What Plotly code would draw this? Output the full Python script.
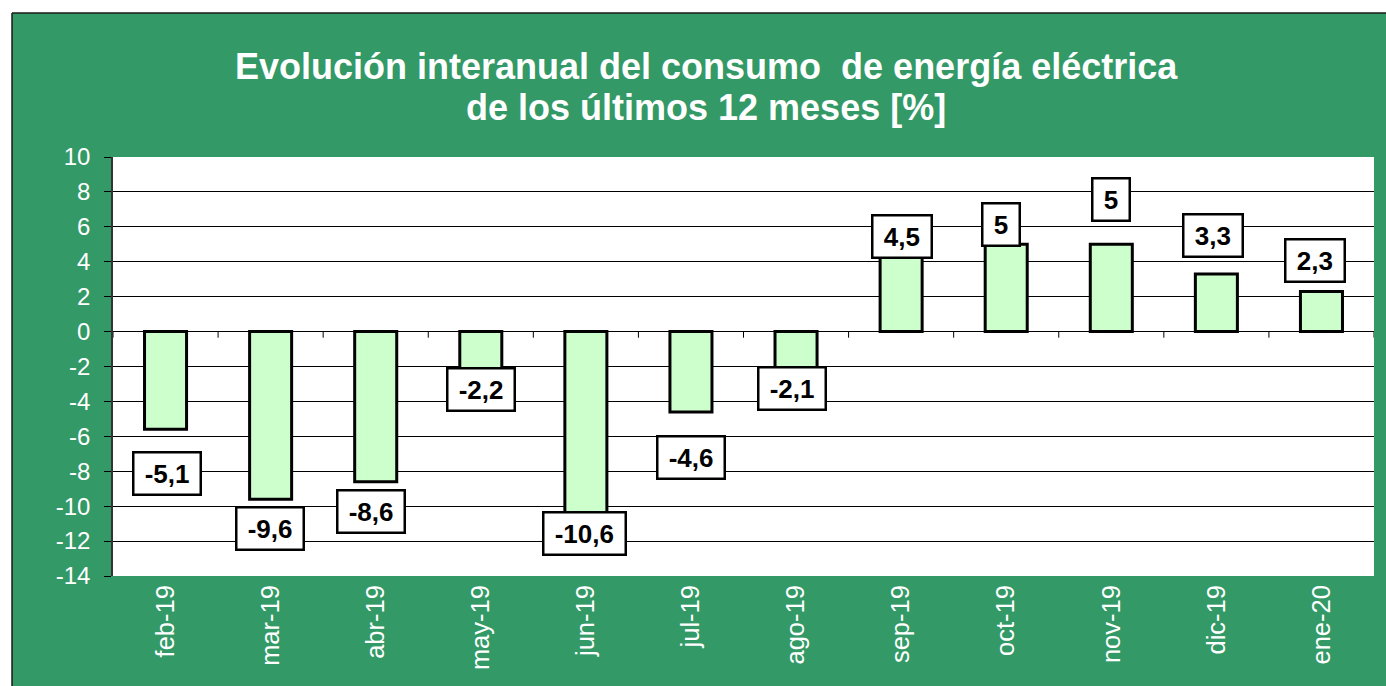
import plotly.graph_objects as go

# ---- data ----
months = ["feb-19", "mar-19", "abr-19", "may-19", "jun-19", "jul-19",
          "ago-19", "sep-19", "oct-19", "nov-19", "dic-19", "ene-20"]
bar_values = [-5.6, -9.6, -8.6, -2.2, -10.6, -4.6, -2.1, 4.5, 5.0, 5.0, 3.3, 2.3]
label_texts = ["-5,1", "-9,6", "-8,6", "-2,2", "-10,6", "-4,6", "-2,1",
               "4,5", "5", "5", "3,3", "2,3"]
y_ticks = [-14, -12, -10, -8, -6, -4, -2, 0, 2, 4, 6, 8, 10]
y_tick_labels = [str(v) for v in y_ticks]

title_line1 = "Evolución interanual del consumo\u00a0 de energía eléctrica"
title_line2 = "de los últimos 12 meses [%]"

# ---- styling / placement (pixels) ----
label_dx = [1, -1, -5, 0, -1, 0, -4, 1, -5, 0, -3, -6]
label_dy = [-44, -29, -30, -20, -17, -46, -20, 17, 20, 45, 38, 31]

GREEN = "#339966"
FONT = "Liberation Sans, Arial, sans-serif"
W, H = 1386, 686
L, R, T, B = 113, 12, 157, 110
PW, PH = W - L - R, H - T - B


def xp(px):
    return (px - L) / PW


def yp(py):
    return (H - B - py) / PH


fig = go.Figure()
fig.add_trace(go.Bar(
    x=months, y=bar_values, width=0.4,
    marker=dict(color="#CCFFCC", line=dict(color="black", width=3)),
    hoverinfo="skip",
))

annotations = []
for m, v, t, dx, dy in zip(months, bar_values, label_texts, label_dx, label_dy):
    annotations.append(dict(
        x=m, y=v, xref="x", yref="y", text="\u2009" + t + "\u2009",
        showarrow=False, xshift=dx, yshift=dy,
        font=dict(family=FONT, size=26, color="black", weight="bold"),
        bgcolor="white", bordercolor="black", borderwidth=2.5, borderpad=5,
    ))

annotations.append(dict(
    x=xp(706), y=yp(67), xref="paper", yref="paper", text="<b>" + title_line1 + "</b>",
    showarrow=False, xanchor="center", yanchor="middle",
    font=dict(family=FONT, size=36, color="white"),
))
annotations.append(dict(
    x=xp(706), y=yp(108), xref="paper", yref="paper", text="<b>" + title_line2 + "</b>",
    showarrow=False, xanchor="center", yanchor="middle",
    font=dict(family=FONT, size=36, color="white"),
))

shapes = [
    # white strips outside the green frame
    dict(type="rect", xref="paper", yref="paper", x0=xp(-5), x1=xp(12), y0=yp(H + 5), y1=yp(-5),
         fillcolor="white", line=dict(width=0), layer="above"),
    dict(type="rect", xref="paper", yref="paper", x0=xp(-5), x1=xp(W + 5), y0=yp(13), y1=yp(-5),
         fillcolor="white", line=dict(width=0), layer="above"),
    # frame border
    dict(type="line", xref="paper", yref="paper", x0=xp(12), x1=xp(W + 5), y0=yp(13), y1=yp(13),
         line=dict(color="#1a1a1a", width=1.5), layer="above"),
    dict(type="line", xref="paper", yref="paper", x0=xp(12), x1=xp(12), y0=yp(13), y1=yp(H + 5),
         line=dict(color="#1a1a1a", width=1.5), layer="above"),
]
# category boundary tick marks on the zero line
for i in range(len(months) + 1):
    shapes.append(dict(type="line", xref="x", yref="y", x0=i - 0.5, x1=i - 0.5,
                       y0=0, y1=-0.35, line=dict(color="black", width=1), layer="above"))

fig.update_layout(
    width=W, height=H,
    margin=dict(l=L, r=R, t=T, b=B, pad=0),
    paper_bgcolor=GREEN, plot_bgcolor="white",
    showlegend=False,
    annotations=annotations,
    shapes=shapes,
    bargap=0.6,
    xaxis=dict(
        type="category", range=[-0.5, len(months) - 0.5],
        tickangle=-90, ticks="", showgrid=False, showline=False, zeroline=False,
        tickfont=dict(family=FONT, size=25.5, color="white"),
        ticklabelstandoff=3,
    ),
    yaxis=dict(
        range=[-14, 10], tickmode="array", tickvals=y_ticks, ticktext=y_tick_labels,
        showgrid=True, gridcolor="black", gridwidth=1,
        zeroline=False, showline=True, linecolor="#333333", linewidth=1.5,
        ticks="outside", ticklen=7, tickcolor="black",
        tickfont=dict(family=FONT, size=24, color="white"),
        ticklabelstandoff=9,
    ),
)

fig.write_html("out.html", config={"displayModeBar": False},
               post_script="document.body.style.margin='0px';")
